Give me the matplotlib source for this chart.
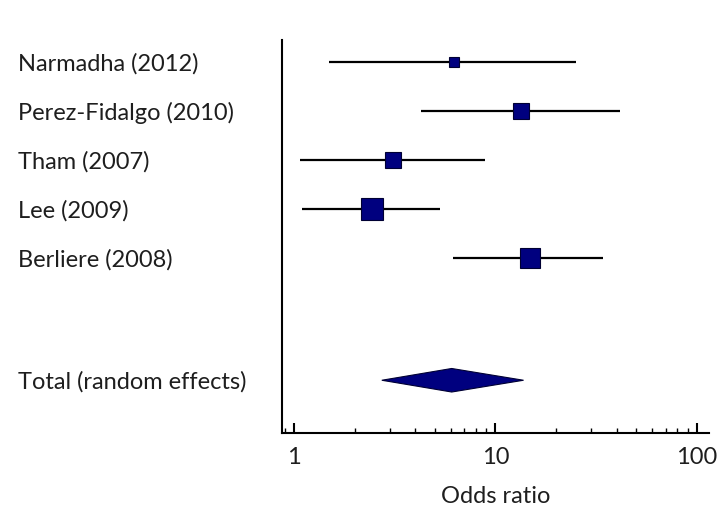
import numpy as np
import matplotlib
matplotlib.use('Agg')
import matplotlib.pyplot as plt

# Study data (odds ratios)
studies = ['Narmadha (2012)', 'Perez-Fidalgo (2010)', 'Tham (2007)', 'Lee (2009)', 'Berliere (2008)']
odds_ratio = [6.2, 13.4, 3.1, 2.45, 14.8]
ci_low = [1.5, 4.26, 1.075, 1.1, 6.17]
ci_high = [25.2, 41.6, 8.86, 5.31, 34.4]
weights = [7.5, 16.0, 16.0, 33.0, 27.5]

total_label = 'Total (random effects)'
total_or = 6.07
total_low = 2.73
total_high = 13.8

plt.rcParams['font.family'] = ['Lato', 'DejaVu Sans']

fig = plt.figure(figsize=(7.18, 5.08), dpi=100)
ax = fig.add_axes([0.3923, 0.1482, 0.9875 - 0.3923, 0.9213 - 0.1482])

navy = '#00007f'
txt = '#1e1e1e'
fs = 17
rows = np.arange(len(studies))
total_row = 6.5

# Confidence interval lines and weighted squares
for r, est, lo, hi, w in zip(rows, odds_ratio, ci_low, ci_high, weights):
    ax.plot([lo, hi], [r, r], color='black', lw=1.6, solid_capstyle='butt', zorder=2)
    size_px = 4.0 * np.sqrt(w)
    ax.plot(est, r, marker='s', markersize=size_px * 0.72, color=navy,
            markeredgecolor='#000033', markeredgewidth=0.8, zorder=3)

# Pooled estimate diamond
h = 0.24
ax.fill([total_low, total_or, total_high, total_or],
        [total_row, total_row - h, total_row, total_row + h],
        color=navy, edgecolor='#000033', lw=0.8, zorder=3)

ax.set_xscale('log')
ax.set_xlim(0.869, 115)
ax.set_ylim(7.57, -0.44)

ax.set_xticks([1, 10, 100])
ax.set_xticklabels(['1', '10', '100'])
ax.tick_params(axis='x', which='major', direction='in', length=7, width=1.5,
               labelsize=fs, pad=10, colors='black', labelcolor=txt)
ax.tick_params(axis='x', which='minor', direction='in', length=3.5, width=1.0)

ax.set_yticks(list(rows) + [total_row])
ax.set_yticklabels(studies + [total_label], ha='left', fontsize=fs, color=txt)
ax.tick_params(axis='y', length=0, pad=190)

for s in ['top', 'right']:
    ax.spines[s].set_visible(False)
ax.spines['left'].set_linewidth(1.5)
ax.spines['bottom'].set_linewidth(1.5)

ax.set_xlabel('Odds ratio', fontsize=fs, color=txt, labelpad=13)

fig.savefig('out.png', dpi=100)
